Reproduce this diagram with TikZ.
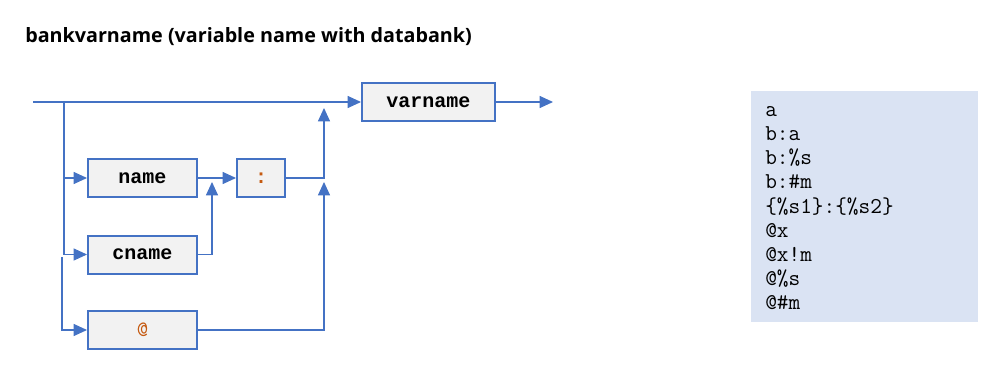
\documentclass[tikz,border=0pt]{standalone}
\usepackage{fontspec}
\setmainfont{Open Sans}
\newfontfamily\railmono{Liberation Mono}
\usepackage{xcolor}
\usetikzlibrary{arrows.meta}

\definecolor{boxblue}{HTML}{4472C4}
\definecolor{boxgray}{HTML}{F2F2F2}
\definecolor{symorange}{HTML}{C55A11}
\definecolor{exblue}{HTML}{DAE3F3}

\tikzset{
  syntaxbox/.style={draw=boxblue,line width=1.5pt,fill=boxgray,minimum height=28.5pt,
    inner sep=0pt,font=\railmono\bfseries\fontsize{15}{18}\selectfont},
  rail/.style={draw=boxblue,line width=0.8pt},
  railarrow/.style={rail,-{Triangle[length=10pt,width=9pt]}},
  example/.style={anchor=base west,inner sep=0pt,font=\ttfamily\fontsize{17}{20}\selectfont}
}

\begin{document}
\begin{tikzpicture}[x=0.75pt,y=-0.75pt]
  \useasboundingbox (0,0) rectangle (1006,381);
  \node[anchor=base west,inner sep=0pt,font=\bfseries\fontsize{14.8}{18}\selectfont] (title) at (25,43) {bankvarname (variable name with databank)};

  % boxes
  \node[syntaxbox,minimum width=99.75pt] (varname) at (428.5,102) {varname};
  \node[syntaxbox,minimum width=81.75pt] (name) at (142.5,178) {name};
  \node[syntaxbox,minimum width=81.75pt] (cname) at (142.5,254.5) {cname};
  \node[syntaxbox,minimum width=81.75pt] (atsign) at (142.5,330) {\textcolor{symorange}{\ttfamily\mdseries\fontsize{16.5}{20}\selectfont @}};
  \node[syntaxbox,minimum width=36pt] (colon) at (261,178) {\textcolor{symorange}{:}};

  % rails
  \coordinate (start) at (33,102);
  \coordinate (split1) at (64,102);
  \coordinate (split2) at (62,257);
  \coordinate (join1) at (212,182);
  \coordinate (join2) at (324,108);
  \coordinate (join3) at (324,182);
  \coordinate (stop) at (553,102);

  \draw[railarrow] (start) -- (varname);
  \draw[railarrow] (varname) -- (stop);
  \draw[railarrow] (split1) |- (name);
  \draw[railarrow] (split1) |- (cname);
  \draw[railarrow] (split2) |- (atsign);
  \draw[railarrow] (name) -- (colon);
  \draw[railarrow] (cname.east) -| (join1);
  \draw[railarrow] (colon.east) -| (join2);
  \draw[railarrow] (atsign.east) -| (join3);

  % examples
  \node[fill=exblue,anchor=north west,minimum width=170.25pt,minimum height=173.25pt,inner sep=0pt] (examples) at (751,91) {};
  \foreach \txt [count=\i from 0] in {a,b:a,b:\%s,b:\#m,{\{\%s1\}:\{\%s2\}},@x,@x!m,@\%s,@\#m}
    \node[example] (ex\i) at (765,117+24*\i) {\txt};
\end{tikzpicture}
\end{document}
